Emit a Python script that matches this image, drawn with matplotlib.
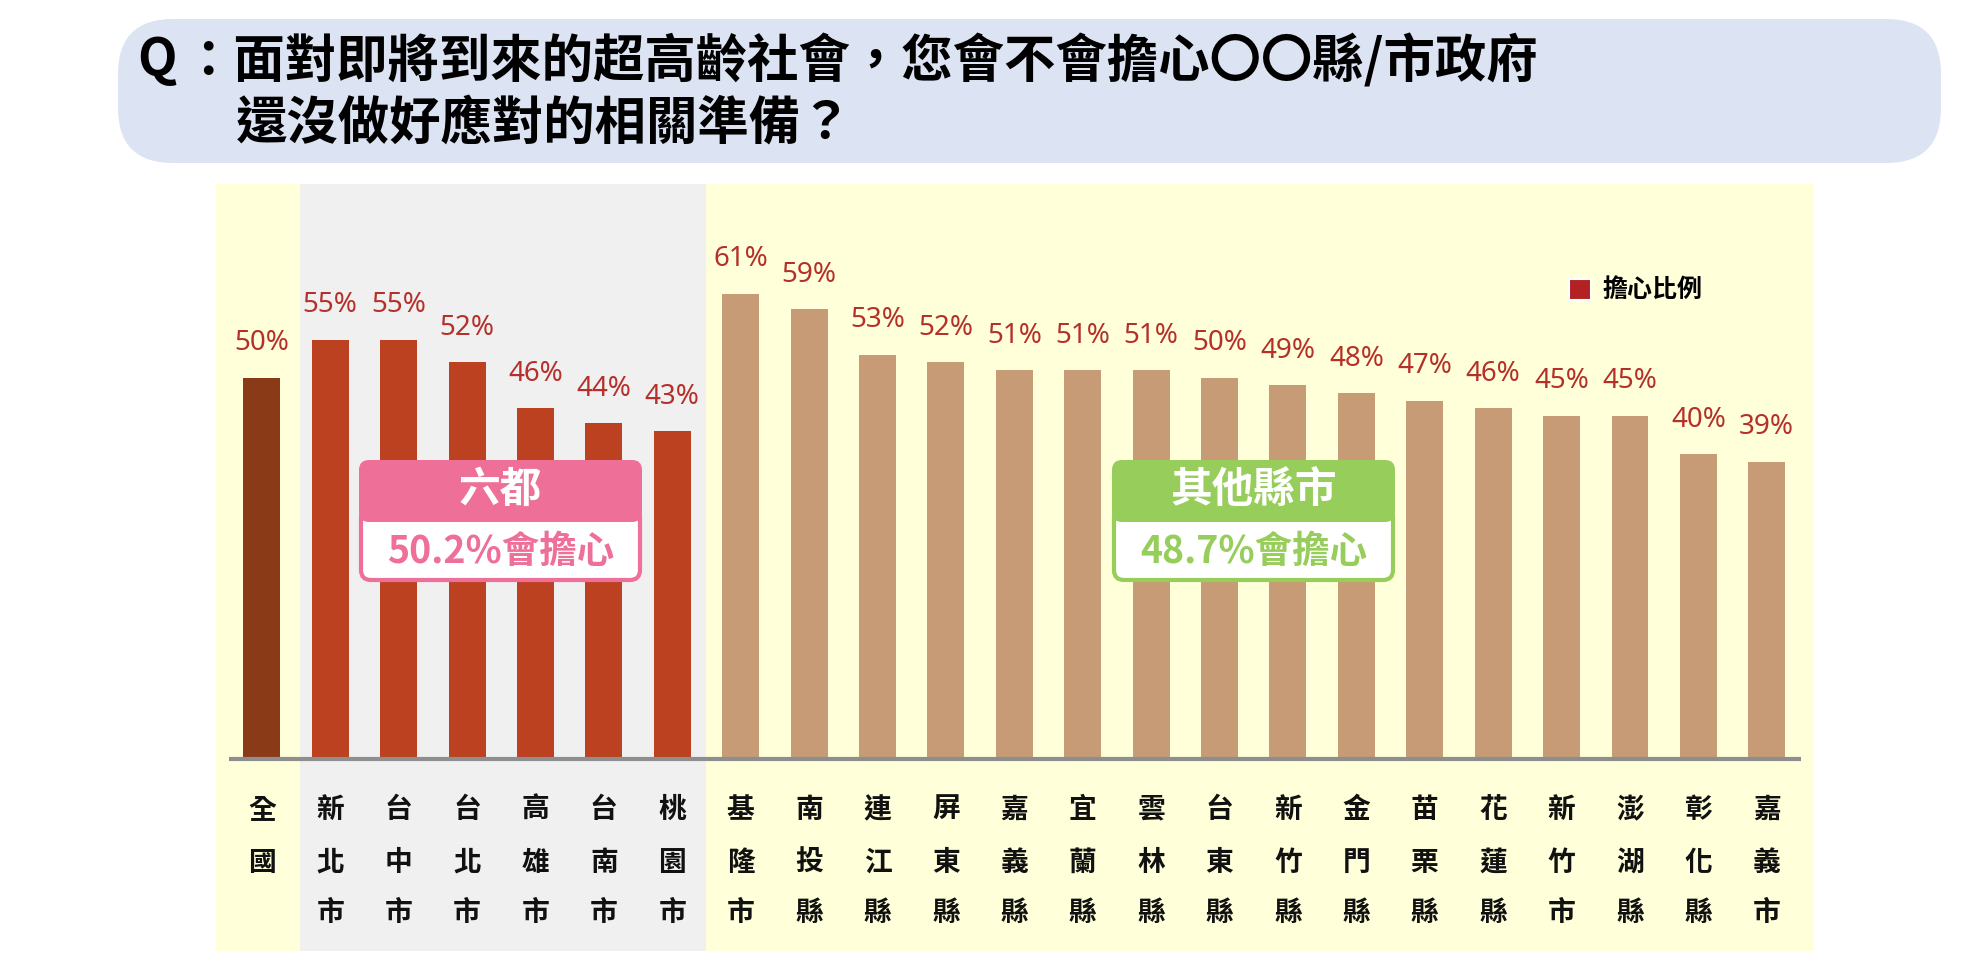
import matplotlib
matplotlib.use("Agg")
import matplotlib.pyplot as plt
from matplotlib.patches import FancyBboxPatch, Rectangle

plt.rcParams['font.family'] = ['Noto Sans CJK TC', 'DejaVu Sans']

# ---------------- data ----------------
categories = ['全國', '新北市', '台中市', '台北市', '高雄市', '台南市', '桃園市',
              '基隆市', '南投縣', '連江縣', '屏東縣', '嘉義縣', '宜蘭縣', '雲林縣',
              '台東縣', '新竹縣', '金門縣', '苗栗縣', '花蓮縣', '新竹市', '澎湖縣',
              '彰化縣', '嘉義市']
values = [50, 55, 55, 52, 46, 44, 43,
          61, 59, 53, 52, 51, 51, 51, 50, 49, 48, 47, 46, 45, 45, 40, 39]
groups = ['national'] + ['six'] * 6 + ['other'] * 16
legend_label = '擔心比例'
title_line1 = '：面對即將到來的超高齡社會，您會不會擔心〇〇縣/市政府'
title_line2 = '還沒做好應對的相關準備？'
six_title, six_text = '六都', '50.2%會擔心'
other_title, other_text = '其他縣市', '48.7%會擔心'

group_colors = {'national': '#8B3A17', 'six': '#BB4120', 'other': '#C79B76'}
label_color = '#B5302A'

W, H = 1988, 976
fig = plt.figure(figsize=(W / 100, H / 100), dpi=100)

# main axes spanning the chart panel
left, right, top, bottom = 216, 1814, 184, 951
ax = fig.add_axes([left / W, (H - bottom) / H, (right - left) / W, (bottom - top) / H])
ax.set_xlim(-0.67, 22.69)
ax.set_ylim(-25.2, 75.4)
ax.axis('off')

# panel backgrounds
ax.axvspan(-0.67, 0.557, color='#FFFFD9', zorder=0, lw=0)
ax.axvspan(0.557, 6.5, color='#F0F0F0', zorder=0, lw=0)
ax.axvspan(6.5, 22.69, color='#FFFFD9', zorder=0, lw=0)

x = list(range(len(categories)))
ax.bar(x, values, width=0.54, color=[group_colors[g] for g in groups], zorder=2)
ax.hlines(0, -0.48, 22.5, color='#8E8E8E', lw=3, zorder=3)

for i, v in zip(x, values):
    ax.text(i, v + 4.5, f'{v}%', ha='center', va='center', fontsize=20,
            color=label_color, family=['Noto Sans', 'DejaVu Sans'])

row_y = [-6.7, -13.6, -20.2]
for i, name in zip(x, categories):
    for r, ch in enumerate(name):
        ax.text(i, row_y[r], ch, ha='center', va='center', fontsize=20,
                color='#111111', fontweight='bold')

# overlay axes in pixel units for decorations
ov = fig.add_axes([0, 0, 1, 1], zorder=5)
ov.set_xlim(0, W)
ov.set_ylim(H, 0)
ov.axis('off')
ov.patch.set_alpha(0)

# title box
ov.add_patch(FancyBboxPatch((118, 19), 1823, 144,
                            boxstyle='round,pad=0,rounding_size=55',
                            facecolor='#DCE3F2', edgecolor='none'))
ov.text(137, 61, 'Q', ha='left', va='center', fontsize=37, fontweight='bold', color='#000000')
ov.text(182, 61, title_line1, ha='left', va='center', fontsize=37, fontweight='bold', color='#000000')
ov.text(236, 123, title_line2, ha='left', va='center', fontsize=37, fontweight='bold', color='#000000')

# legend
ov.add_patch(Rectangle((1569, 279), 22, 21, facecolor='#B22222', edgecolor='white', lw=1.5))
ov.text(1603, 290, legend_label, ha='left', va='center', fontsize=18, fontweight='bold',
        color='#000000')


def group_box(x0, x1, head, body, color):
    ov.add_patch(FancyBboxPatch((x0 + 2, 508), x1 - x0 - 4, 72,
                                boxstyle='round,pad=0,rounding_size=10',
                                facecolor='white', edgecolor=color, lw=3))
    ov.add_patch(FancyBboxPatch((x0, 460), x1 - x0, 62,
                                boxstyle='round,pad=0,rounding_size=10',
                                facecolor=color, edgecolor='none'))
    cx = (x0 + x1) / 2
    ov.text(cx, 490, head, ha='center', va='center', fontsize=30, fontweight='bold', color='white')
    ov.text(cx, 551, body, ha='center', va='center', fontsize=27, fontweight='bold', color=color)


group_box(359, 642, six_title, six_text, '#EE6F98')
group_box(1112, 1395, other_title, other_text, '#97CD5A')

fig.savefig('out.png', dpi=100)
